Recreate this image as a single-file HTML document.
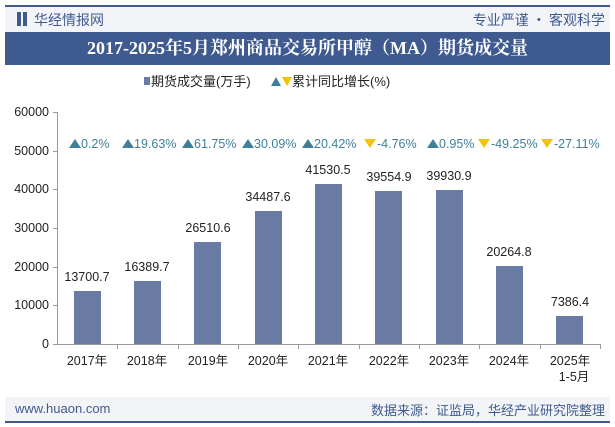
<!DOCTYPE html>
<html><head><meta charset="utf-8"><style>
body{margin:0;width:615px;height:427px;background:#fff;font-family:"Liberation Sans","Noto Sans CJK SC",sans-serif;overflow:hidden;position:relative}
.abs{position:absolute}
</style></head><body>
<div class="abs" style="left:5px;top:5px;width:605px;height:2px;background:#3f5a8f"></div>
<div class="abs" style="left:5px;top:7px;width:605px;height:25px;background:#f2f4f8"></div>
<div class="abs" style="left:17px;top:12px;width:4px;height:14px;background:#3f5a8f"></div>
<div class="abs" style="left:23px;top:12px;width:4px;height:14px;background:#3f5a8f"></div>
<div class="abs" style="left:34px;top:10px;font-size:14px;color:#3f5a8f;font-family:'Noto Sans CJK SC',sans-serif">华经情报网</div>
<div class="abs" style="right:10px;top:10px;font-size:14px;color:#3f5a8f;font-family:'Noto Sans CJK SC',sans-serif">专业严谨 • 客观科学</div>
<div class="abs" style="left:5px;top:32px;width:605px;height:33px;background:#3f5a8f;color:#fff;font-size:18px;font-weight:bold;text-align:center;line-height:33px;font-family:'Liberation Serif','Noto Serif CJK SC',serif">2017-2025年5月郑州商品交易所甲醇（MA）期货成交量</div>
<div class="abs" style="left:5px;top:397px;width:605px;height:24px;background:#f2f4f8"></div>
<div class="abs" style="left:5px;top:421px;width:605px;height:2px;background:#3f5a8f"></div>
<div class="abs" style="left:15px;top:401px;font-size:13px;color:#3f5a8f">www.huaon.com</div>
<div class="abs" style="right:10px;top:400px;font-size:13px;color:#3f5a8f;font-family:'Noto Sans CJK SC',sans-serif">数据来源：证监局，华经产业研究院整理</div>
<svg class="abs" style="left:0;top:0" width="615" height="427" font-family="Liberation Sans,Noto Sans CJK SC,sans-serif">
<rect x="144" y="77" width="6" height="8" fill="#6a7ba3"/>
<text x="151" y="86" font-size="13" fill="#222">期货成交量(万手)</text>
<polygon points="271,86 276,77 281,86" fill="#3e7f9a"/>
<polygon points="282,77 292,77 287,86" fill="#f5c400"/>
<text x="292" y="86" font-size="13" fill="#222">累计同比增长(%)</text>
<g font-size="12.5" fill="#222" text-anchor="end">
<text x="49" y="116">60000</text><text x="49" y="155">50000</text><text x="49" y="193">40000</text><text x="49" y="232">30000</text><text x="49" y="271">20000</text><text x="49" y="309">10000</text><text x="49" y="348">0</text>
</g>
<line x1="57.5" y1="112" x2="57.5" y2="345" stroke="#999"/>
<line x1="57" y1="344.5" x2="601" y2="344.5" stroke="#999"/>
<g stroke="#999"><line x1="53" y1="112.5" x2="57" y2="112.5"/><line x1="53" y1="151.5" x2="57" y2="151.5"/><line x1="53" y1="189.5" x2="57" y2="189.5"/><line x1="53" y1="228.5" x2="57" y2="228.5"/><line x1="53" y1="267.5" x2="57" y2="267.5"/><line x1="53" y1="305.5" x2="57" y2="305.5"/><line x1="53" y1="344.5" x2="57" y2="344.5"/>
<line x1="117.5" y1="344" x2="117.5" y2="349"/><line x1="178.5" y1="344" x2="178.5" y2="349"/><line x1="238.5" y1="344" x2="238.5" y2="349"/><line x1="298.5" y1="344" x2="298.5" y2="349"/><line x1="359.5" y1="344" x2="359.5" y2="349"/><line x1="419.5" y1="344" x2="419.5" y2="349"/><line x1="479.5" y1="344" x2="479.5" y2="349"/><line x1="540.5" y1="344" x2="540.5" y2="349"/><line x1="600.5" y1="344" x2="600.5" y2="349"/></g>
<g fill="#6a7ba3">
<rect x="74" y="291" width="27" height="53"/>
<rect x="134" y="281" width="27" height="63"/>
<rect x="194" y="242" width="27" height="102"/>
<rect x="255" y="211" width="27" height="133"/>
<rect x="315" y="184" width="27" height="160"/>
<rect x="375" y="191" width="27" height="153"/>
<rect x="436" y="190" width="27" height="154"/>
<rect x="496" y="266" width="27" height="78"/>
<rect x="556" y="316" width="27" height="28"/>
</g>
<g font-size="12.5" fill="#222" text-anchor="middle">
<text x="87" y="281">13700.7</text><text x="147" y="271">16389.7</text><text x="208" y="232">26510.6</text><text x="268" y="201">34487.6</text><text x="328" y="174">41530.5</text><text x="389" y="181">39554.9</text><text x="449" y="180">39930.9</text><text x="509" y="256">20264.8</text><text x="570" y="306">7386.4</text>
<text x="87" y="365">2017年</text><text x="147" y="365">2018年</text><text x="208" y="365">2019年</text><text x="268" y="365">2020年</text><text x="328" y="365">2021年</text><text x="389" y="365">2022年</text><text x="449" y="365">2023年</text><text x="509" y="365">2024年</text><text x="570" y="365">2025年</text><text x="574" y="381">1-5月</text>
</g>
<g fill="#3e7f9a"><polygon points="69,148 75,139 81,148"/><polygon points="122,148 128,139 134,148"/><polygon points="182,148 188,139 194,148"/><polygon points="242,148 248,139 254,148"/><polygon points="302,148 308,139 314,148"/><polygon points="427,148 433,139 439,148"/></g>
<g fill="#f5c400"><polygon points="364,139 376,139 370,148"/><polygon points="478,139 490,139 484,148"/><polygon points="541,139 553,139 547,148"/></g>
<g font-size="12.5" fill="#3e7f9a">
<text x="81" y="148">0.2%</text>
<text x="134" y="148">19.63%</text>
<text x="194" y="148">61.75%</text>
<text x="254" y="148">30.09%</text>
<text x="314" y="148">20.42%</text>
<text x="377" y="148">-4.76%</text>
<text x="439" y="148">0.95%</text>
<text x="491" y="148">-49.25%</text>
<text x="554" y="148">-27.11%</text>
</g>
</svg>
</body></html>
